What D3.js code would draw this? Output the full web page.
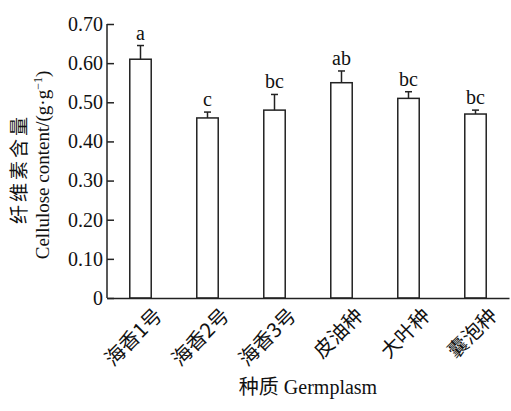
<!DOCTYPE html>
<html>
<head>
<meta charset="utf-8">
<script src="https://cdn.jsdelivr.net/npm/d3@7"></script>
<style>
  body { margin: 0; background: #fff; }
  text { font-family: "Liberation Serif", "Times New Roman", serif; fill: #111; }
  .cjk { font-family: "Noto Sans CJK SC", sans-serif; }
</style>
</head>
<body>
<div id="chart"></div>
<script>
// data
const germplasm = ['海香1号', '海香2号', '海香3号', '皮油种', '大叶种', '囊泡种'];
const cellulose = [0.61, 0.46, 0.48, 0.55, 0.51, 0.47];
const errors = [0.035, 0.015, 0.04, 0.03, 0.017, 0.01];
const letters = ['a', 'c', 'bc', 'ab', 'bc', 'bc'];
const yTicks = [0, 0.1, 0.2, 0.3, 0.4, 0.5, 0.6, 0.7];

const width = 511, height = 411;
const margin = { top: 24, right: 2, bottom: 113, left: 107 };

const svg = d3.select('#chart').append('svg')
    .attr('width', width)
    .attr('height', height);

const x = d3.scaleBand()
    .domain(germplasm)
    .range([margin.left, width - margin.right])
    .paddingInner(0.68)
    .paddingOuter(0.34);

const y = d3.scaleLinear()
    .domain([0, 0.7])
    .range([height - margin.bottom, margin.top]);

const ink = '#222';
const cx = i => x(germplasm[i]) + x.bandwidth() / 2;

// bars
svg.selectAll('.bar')
    .data(cellulose)
    .enter().append('rect')
    .attr('class', 'bar')
    .attr('x', (d, i) => x(germplasm[i]))
    .attr('y', d => y(d))
    .attr('width', x.bandwidth())
    .attr('height', d => y(0) - y(d))
    .attr('fill', '#fff')
    .attr('stroke', ink)
    .attr('stroke-width', 1.5);

// error bars (upper only)
const err = svg.selectAll('.err')
    .data(cellulose)
    .enter().append('g')
    .attr('class', 'err')
    .attr('stroke', ink)
    .attr('stroke-width', 1.5);

err.append('line')
    .attr('x1', (d, i) => cx(i))
    .attr('x2', (d, i) => cx(i))
    .attr('y1', d => y(d))
    .attr('y2', (d, i) => y(d + errors[i]));

err.append('line')
    .attr('x1', (d, i) => cx(i) - 3.5)
    .attr('x2', (d, i) => cx(i) + 3.5)
    .attr('y1', (d, i) => y(d + errors[i]))
    .attr('y2', (d, i) => y(d + errors[i]));

// significance letters
svg.selectAll('.letter')
    .data(cellulose)
    .enter().append('text')
    .attr('class', 'letter')
    .attr('x', (d, i) => cx(i))
    .attr('y', (d, i) => y(d + errors[i]) - 6)
    .attr('text-anchor', 'middle')
    .attr('font-size', 20)
    .text((d, i) => letters[i]);

// y axis
const yAxis = svg.append('g')
    .attr('transform', `translate(${margin.left},0)`)
    .call(d3.axisRight(y)
        .tickValues(yTicks)
        .tickSize(7)
        .tickFormat(d => d === 0 ? '0' : d3.format('.2f')(d)));

yAxis.select('.domain').attr('stroke', ink).attr('stroke-width', 1.5)
    .attr('d', `M0,${y(0)}V${y(0.7)}`);
yAxis.selectAll('.tick line').attr('stroke', ink).attr('stroke-width', 1.5);
yAxis.selectAll('.tick text')
    .attr('x', -4)
    .attr('text-anchor', 'end')
    .attr('font-family', '"Liberation Serif", serif')
    .attr('font-size', 20)
    .attr('fill', '#111');

// x axis
const xAxis = svg.append('g')
    .attr('transform', `translate(0,${y(0)})`)
    .call(d3.axisBottom(x).tickSize(0).tickSizeOuter(0).tickFormat(''));

xAxis.select('.domain').attr('stroke', ink).attr('stroke-width', 1.5);

// rotated category labels
svg.selectAll('.xlabel')
    .data(germplasm)
    .enter().append('text')
    .attr('class', 'xlabel cjk')
    .attr('transform', (d, i) => `translate(${cx(i) + 18},${y(0) + 14}) rotate(-45)`)
    .attr('text-anchor', 'end')
    .attr('dy', '0.35em')
    .attr('font-size', 20)
    .text(d => d);

// axis titles
svg.append('text')
    .attr('x', (margin.left + width - margin.right) / 2)
    .attr('y', 394)
    .attr('text-anchor', 'middle')
    .attr('font-size', 20)
    .html('<tspan class="cjk">种质</tspan> Germplasm');

const yMid = (y(0) + y(0.7)) / 2;
svg.append('text')
    .attr('class', 'cjk')
    .attr('transform', `translate(26,${yMid + 8}) rotate(-90)`)
    .attr('text-anchor', 'middle')
    .attr('font-size', 19)
    .attr('letter-spacing', 3)
    .text('纤维素含量');

svg.append('text')
    .attr('transform', `translate(49,${yMid + 4}) rotate(-90)`)
    .attr('text-anchor', 'middle')
    .attr('font-size', 19)
    .html('Cellulose content/(g·g<tspan dy="-7" font-size="12">−1</tspan><tspan dy="7">)</tspan>');
</script>
</body>
</html>
